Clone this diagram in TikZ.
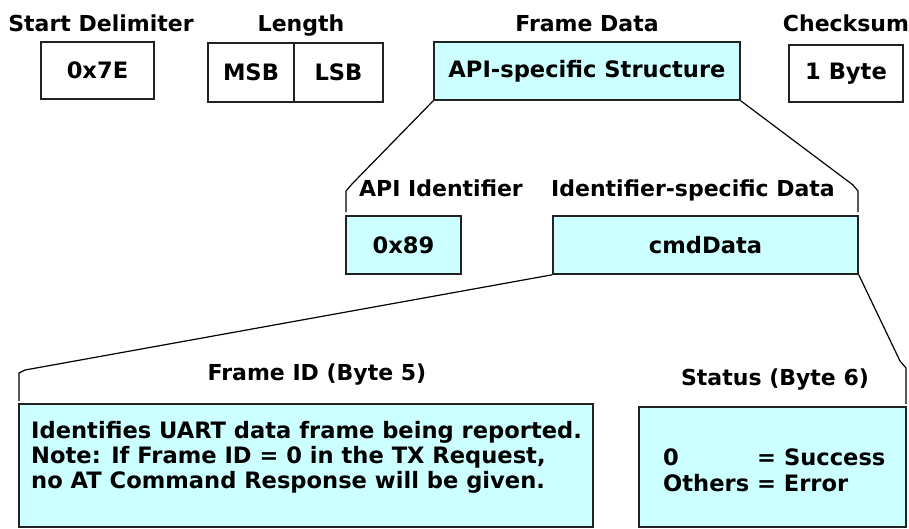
\documentclass[tikz,border=0pt]{standalone}
\usepackage{fontspec}
\setmainfont{DejaVu Sans}
\definecolor{cellfill}{HTML}{CCFFFF}
\definecolor{edge}{HTML}{222222}
\tikzset{
  txt/.style={font=\bfseries\fontsize{22}{25}\selectfont},
  boxtxt/.style={font=\bfseries\fontsize{22.6}{25}\selectfont},
  field/.style={boxtxt, draw=edge, line width=1.6pt, inner sep=0pt},
  plainfield/.style={field, fill=white},
  tinted/.style={field, fill=cellfill},
  caption/.style={txt, inner sep=0pt, anchor=base},
  bodyline/.style={boxtxt, inner sep=0pt, anchor=base west},
  link/.style={draw=black, line width=1.2pt, line join=round}
}
\begin{document}
\begin{tikzpicture}[x=1pt,y=-1pt]
\useasboundingbox (0,0) rectangle (909,528);
\fill[white] (0,0) rectangle (909,528);

% top row: the four frame fields
\node[caption] (capdelim) at (101,31) {Start Delimiter};
\node[caption] (caplen)   at (301,31) {Length};
\node[caption] (capframe) at (587,31) {Frame Data};
\node[caption] (capsum)   at (846,31) {Checksum};

\node[plainfield, minimum width=113, minimum height=57] (delim) at (97.5,70.5) {0x7E};
\node[plainfield, minimum width=86, minimum height=59] (msb) at (251,72.5) {MSB};
\node[plainfield, minimum width=89, minimum height=59] (lsb) at (338.5,72.5) {LSB};
\node[tinted, minimum width=306, minimum height=58] (frame) at (587,71) {API-specific Structure};
\node[plainfield, minimum width=114, minimum height=57] (sum) at (846,73.5) {1 Byte};

% second row: API identifier and its data
\node[caption] (capapi) at (441,196) {API Identifier};
\node[caption] (capcmd) at (693,196) {Identifier-specific Data};
\node[tinted, minimum width=115, minimum height=58] (api) at (403.5,245) {0x89};
\node[tinted, minimum width=305, minimum height=58] (cmd) at (705.5,245) {cmdData};

% third row: the two bytes of cmdData
\node[caption] (capfid) at (317,380) {Frame ID (Byte 5)};
\node[caption] (capsts) at (775,385) {Status (Byte 6)};
\node[tinted, minimum width=574, minimum height=123] (fid) at (306,465.5) {};
\node[tinted, minimum width=267, minimum height=120] (sts) at (772.5,467) {};

\node[bodyline] (fidA) at (31,438) {Identifies UART data frame being reported.};
\node[bodyline] (fidB) at (31,463) {Note: If Frame ID = 0 in the TX Request,};
\node[bodyline] (fidC) at (31,488) {no AT Command Response will be given.};

\node[bodyline] (stsA) at (663,465) {0};
\node[bodyline] (stsB) at (757,465) {= Success};
\node[bodyline] (stsC) at (663,491) {Others = Error};

% expansion brackets
\coordinate (apiFoot) at (346,212);
\coordinate (apiKnee) at (346,191);
\coordinate (apiBend) at (352,184);
\draw[link] (apiFoot) -- (apiKnee) -- (apiBend) -- (frame.south west);

\coordinate (cmdFoot) at (858,212);
\coordinate (cmdKnee) at (858,191);
\coordinate (cmdBend) at (853,185);
\draw[link] (cmdFoot) -- (cmdKnee) -- (cmdBend) -- (frame.south east);

\coordinate (fidFoot) at (19,401);
\coordinate (fidKnee) at (19,373);
\coordinate (fidBend) at (25,370);
\draw[link] (fidFoot) -- (fidKnee) -- (fidBend) -- (cmd.south west);

\coordinate (stsFoot) at (906,404);
\coordinate (stsKnee) at (906,368);
\coordinate (stsBend) at (900,361);
\draw[link] (cmd.south east) -- (stsBend) -- (stsKnee) -- (stsFoot);
\end{tikzpicture}
\end{document}
